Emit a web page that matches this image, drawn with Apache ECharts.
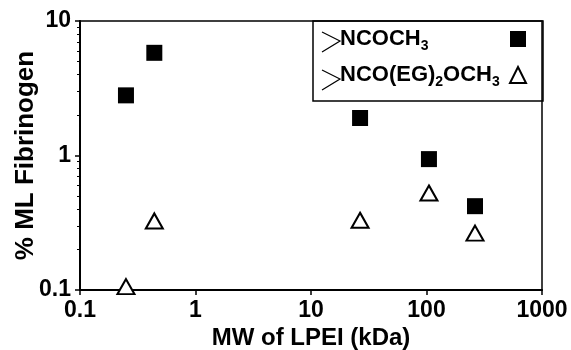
<!DOCTYPE html>
<html>
<head>
<meta charset="utf-8">
<script src="https://cdn.jsdelivr.net/npm/echarts@6/dist/echarts.min.js"></script>
<style>html,body{margin:0;padding:0;background:#fff}#c{width:571px;height:350px}</style>
</head>
<body>
<div id="c"></div>
<script>
const seriesNames = ['NCOCH3', 'NCO(EG)2OCH3'];
const mwAcetyl = [0.25, 0.44, 26.6, 105, 263];
const fibAcetyl = [2.8, 5.8, 1.9, 0.94, 0.42];
const mwEG = [0.25, 0.44, 26.6, 105, 263];
const fibEG = [0.106, 0.326, 0.33, 0.526, 0.265];
const xTickLabels = [0.1, 1, 10, 100, 1000];
const yTickLabels = [0.1, 1, 10];
const yMinorTicks = [0.2, 0.3, 0.4, 0.5, 0.6, 0.7, 0.8, 0.9, 2, 3, 4, 5, 6, 7, 8, 9];

const FONT = '"Liberation Sans", Arial, sans-serif';
const chart = echarts.init(document.getElementById('c'), null, {renderer: 'canvas'});

const legendRich = {
  t: {fontSize: 22, fontWeight: 'bold', fontFamily: FONT, color: '#000', lineHeight: 28, align: 'left'},
  s: {fontSize: 14, fontWeight: 'bold', fontFamily: FONT, color: '#000', verticalAlign: 'bottom', lineHeight: 12, align: 'left'}
};
const legendLabel = {
  'NCOCH3': '{t|NCOCH}{s|3}',
  'NCO(EG)2OCH3': '{t|NCO(EG)}{s|2}{t|OCH}{s|3}'
};

chart.setOption({
  animation: false,
  backgroundColor: '#fff',
  grid: {left: 80, right: 29, top: 21, bottom: 60, show: true, borderColor: '#000', borderWidth: 1.5, backgroundColor: 'transparent', containLabel: false, outerBoundsMode: 'none'},
  xAxis: {
    type: 'log', logBase: 10, min: 0.1, max: 1000,
    name: 'MW of LPEI (kDa)', nameLocation: 'middle', nameGap: 36, nameMoveOverlap: false,
    nameTextStyle: {fontSize: 24, fontWeight: 'bold', fontFamily: FONT, color: '#000'},
    axisLine: {lineStyle: {color: '#000', width: 2}},
    axisTick: {inside: false, length: 5, lineStyle: {color: '#000', width: 1.5}, customValues: xTickLabels},
    axisLabel: {fontSize: 23, fontWeight: 'bold', fontFamily: FONT, color: '#000', margin: 9, customValues: xTickLabels, formatter: v => String(v)},
    splitLine: {show: false}
  },
  yAxis: [{
    type: 'log', logBase: 10, min: 0.1, max: 10,
    name: '% ML Fibrinogen', nameLocation: 'middle', nameGap: 41, nameRotate: 90, nameMoveOverlap: false,
    nameTextStyle: {fontSize: 26, fontWeight: 'bold', fontFamily: FONT, color: '#000'},
    axisLine: {lineStyle: {color: '#000', width: 2}},
    axisTick: {inside: false, length: 5, lineStyle: {color: '#000', width: 1.5}, customValues: yTickLabels},
    axisLabel: {fontSize: 23, fontWeight: 'bold', fontFamily: FONT, color: '#000', margin: 9, customValues: yTickLabels, formatter: v => String(v)},
    splitLine: {show: false}
  }, {
    type: 'log', logBase: 10, min: 0.1, max: 10, position: 'left',
    axisLine: {show: false},
    axisTick: {inside: false, length: 3, lineStyle: {color: '#000', width: 1}, customValues: yMinorTicks},
    axisLabel: {show: false},
    splitLine: {show: false}
  }],
  legend: {
    orient: 'vertical', left: 340, top: 28, itemGap: 11, padding: 0,
    align: 'right', itemWidth: 16, itemHeight: 16,
    data: seriesNames,
    formatter: n => legendLabel[n],
    textStyle: {rich: legendRich, width: 165, align: 'left'},
    selectedMode: false
  },
  graphic: [
    {type: 'rect', shape: {x: 313, y: 21, width: 230, height: 80}, style: {fill: 'none', stroke: '#000', lineWidth: 1.5}, z: 10},
    {type: 'polyline', shape: {points: [[322, 32], [340, 41], [322, 52]]}, style: {stroke: '#000', lineWidth: 1.2, fill: 'none'}, z: 10},
    {type: 'polyline', shape: {points: [[322, 70], [340, 79], [322, 90]]}, style: {stroke: '#000', lineWidth: 1.2, fill: 'none'}, z: 10}
  ],
  series: [{
    name: seriesNames[0], type: 'scatter', symbol: 'rect', symbolSize: 16,
    itemStyle: {color: '#000', opacity: 1},
    data: mwAcetyl.map((x, i) => [x, fibAcetyl[i]])
  }, {
    name: seriesNames[1], type: 'scatter', symbol: 'triangle', symbolSize: [17, 15],
    itemStyle: {color: '#fff', borderColor: '#000', borderWidth: 2, opacity: 1},
    data: mwEG.map((x, i) => [x, fibEG[i]])
  }]
});
</script>
</body>
</html>
